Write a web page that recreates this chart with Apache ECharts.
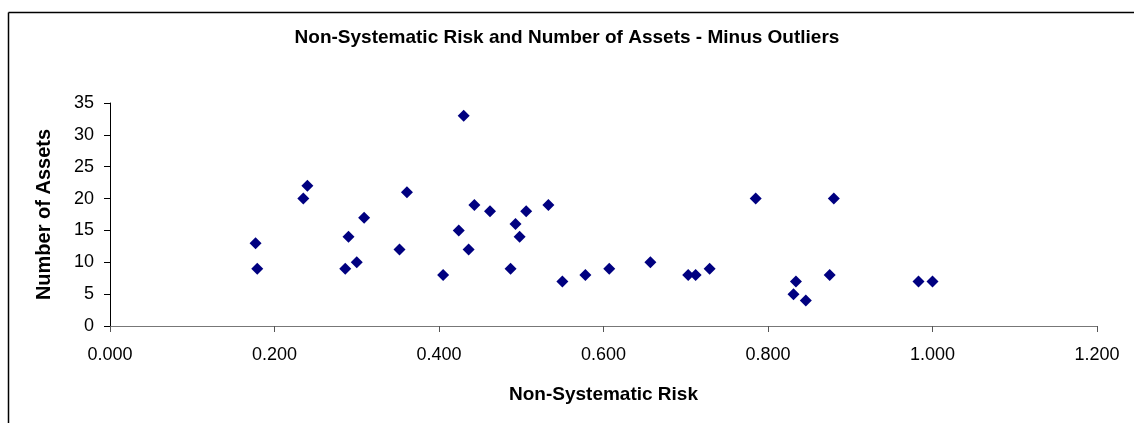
<!DOCTYPE html>
<html>
<head>
<meta charset="utf-8">
<script src="https://cdn.jsdelivr.net/npm/echarts@6/dist/echarts.min.js"></script>
<style>
html,body{margin:0;padding:0;background:#fff;}
#chart{width:1134px;height:423px;}
</style>
</head>
<body>
<div id="chart"></div>
<script>
const titleText = 'Non-Systematic Risk and Number of Assets - Minus Outliers';
const xAxisName = 'Non-Systematic Risk';
const yAxisName = 'Number of Assets';
const riskValues = [0.177, 0.179, 0.235, 0.240, 0.286, 0.290, 0.300, 0.309, 0.352, 0.361,
  0.405, 0.424, 0.430, 0.436, 0.443, 0.462, 0.487, 0.493, 0.498, 0.506,
  0.533, 0.550, 0.578, 0.607, 0.657, 0.703, 0.712, 0.729, 0.785, 0.834,
  0.831, 0.846, 0.875, 0.880, 0.983, 1.000];
const assetCounts = [13, 9, 20, 22, 9, 14, 10, 17, 12, 21,
  8, 15, 33, 12, 19, 18, 9, 16, 14, 18,
  19, 7, 8, 9, 10, 8, 8, 9, 20, 7,
  5, 4, 8, 20, 7, 7];
const points = riskValues.map((x, i) => [x, assetCounts[i]]);

const chart = echarts.init(document.getElementById('chart'), null, {renderer: 'canvas'});
const font = 'Arial, "Liberation Sans", sans-serif';
chart.setOption({
  backgroundColor: '#fff',
  animation: false,
  title: {
    text: titleText,
    left: 'center',
    top: 23,
    textStyle: {fontFamily: font, fontSize: 19, fontWeight: 'bold', color: '#000'}
  },
  graphic: [
    {type: 'line', shape: {x1: 8.5, y1: 12.5, x2: 1134, y2: 12.5}, style: {stroke: '#000', lineWidth: 1.5}},
    {type: 'line', shape: {x1: 8.5, y1: 12.5, x2: 8.5, y2: 423}, style: {stroke: '#000', lineWidth: 1.5}}
  ],
  grid: {left: 110, right: 37, top: 103, bottom: 97, containLabel: false},
  xAxis: {
    type: 'value',
    min: 0, max: 1.2, interval: 0.2,
    name: xAxisName,
    nameLocation: 'middle',
    nameGap: 59,
    nameTextStyle: {fontFamily: font, fontSize: 19, fontWeight: 'bold', color: '#000'},
    axisLine: {show: true, onZero: false, lineStyle: {color: '#777', width: 1}},
    axisTick: {show: true, inside: false, length: 6, lineStyle: {color: '#555'}},
    axisLabel: {margin: 20, fontFamily: font, fontSize: 18, color: '#000', formatter: v => v.toFixed(3)},
    splitLine: {show: false}
  },
  yAxis: {
    type: 'value',
    min: 0, max: 35, interval: 5,
    name: yAxisName,
    nameLocation: 'middle',
    nameGap: 56,
    nameTextStyle: {fontFamily: font, fontSize: 20, fontWeight: 'bold', color: '#000'},
    axisLine: {show: true, lineStyle: {color: '#000', width: 1}},
    axisTick: {show: true, inside: false, length: 6, lineStyle: {color: '#000'}},
    axisLabel: {margin: 16, fontFamily: font, fontSize: 18, color: '#000'},
    splitLine: {show: false}
  },
  series: [{
    type: 'scatter',
    data: points,
    symbol: 'diamond',
    symbolSize: 12,
    itemStyle: {color: '#000080', opacity: 1}
  }]
});
</script>
</body>
</html>
